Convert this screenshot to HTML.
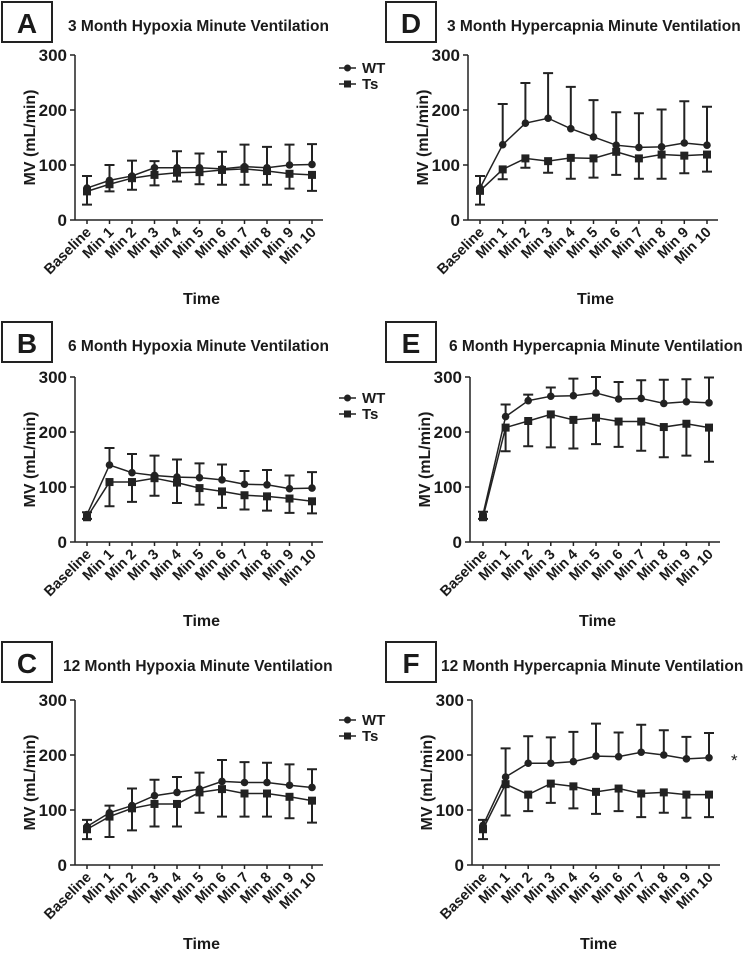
<!DOCTYPE html>
<html><head><meta charset="utf-8"><style>
body{margin:0;background:#fff}
svg{display:block;font-family:"Liberation Sans",Arial,sans-serif;font-weight:bold;fill:#1a1a1a}
</style></head><body>
<svg id="fig" width="749" height="956" viewBox="0 0 749 956" xmlns="http://www.w3.org/2000/svg"></svg>
<script>
const categories=["Baseline","Min 1","Min 2","Min 3","Min 4","Min 5","Min 6","Min 7","Min 8","Min 9","Min 10"];
const yTicks=[0,100,200,300];
// Panel A
const aWT=[58,72,80,95,95,95,93,97,95,100,101];
const aWTup=[80,100,108,107,125,121,124,137,133,137,138];
const aTs=[52,65,76,82,86,87,91,93,89,84,82];
const aTslo=[28,52,55,63,70,65,64,64,64,57,53];
// Panel B
const bWT=[50,140,126,121,118,117,113,105,104,97,98];
const bWTup=[54,171,160,157,150,143,141,129,131,121,127];
const bTs=[45,109,109,116,108,98,92,85,83,79,74];
const bTslo=[42,65,73,84,71,68,62,59,57,53,52];
// Panel C
const cWT=[70,95,108,126,132,138,152,150,150,145,141];
const cWTup=[82,108,139,155,160,168,191,187,186,183,174];
const cTs=[65,88,103,111,111,132,138,130,130,124,117];
const cTslo=[47,51,63,70,70,95,88,88,88,85,77];
// Panel D
const dWT=[58,137,176,185,166,151,136,132,133,140,136];
const dWTup=[80,211,249,267,242,218,196,194,201,216,206];
const dTs=[53,92,112,107,113,112,124,112,119,117,119];
const dTslo=[28,74,95,86,75,77,82,75,75,85,88];
// Panel E
const eWT=[50,228,257,265,266,271,260,261,252,255,253];
const eWTup=[55,250,268,281,297,300,291,294,295,296,299];
const eTs=[45,208,220,232,222,226,219,219,209,215,208];
const eTslo=[42,165,174,172,170,178,173,166,154,157,146];
// Panel F
const fWT=[72,160,185,185,188,198,197,205,200,193,195];
const fWTup=[82,212,234,232,242,257,241,255,245,233,240];
const fTs=[65,147,128,148,143,133,139,130,132,128,128];
const fTslo=[47,90,98,113,103,93,98,87,95,86,87];

const NS="http://www.w3.org/2000/svg";
const svg=document.getElementById('fig');
function mk(tag,attrs,parent,text){const e=document.createElementNS(NS,tag);for(const k in attrs)e.setAttribute(k,attrs[k]);if(text!==undefined)e.textContent=text;(parent||svg).appendChild(e);return e;}

function panel(o){
  const g=mk('g',{});
  
  
  const x=i=>o.x0+(o.x1-o.x0)*i/10;
  const y=v=>o.yb+(o.yt-o.yb)*v/300;
  const box=mk('rect',{x:o.bx,y:o.by,width:50,height:40,fill:'none',stroke:'#222','stroke-width':2},g);
  
  
  const lt=mk('text',{x:o.bx+25,y:o.by+31,'font-size':28,'text-anchor':'middle'},g,o.letter);
  
  
  const tt=mk('text',{x:o.tx,y:o.by+29,'font-size':15.5},g,o.title);
  
  
  const ya=mk('line',{x1:o.ax,y1:o.yt,x2:o.ax,y2:o.yb,stroke:'#222','stroke-width':1.5},g);
  
  
  const xa=mk('line',{x1:o.ax,y1:o.yb,x2:o.x1+11,y2:o.yb,stroke:'#222','stroke-width':1.5},g);
  
  
  yTicks.forEach(t=>{
    mk('line',{x1:o.ax-5,y1:y(t),x2:o.ax,y2:y(t),stroke:'#222','stroke-width':1.5},g);
    const tl=mk('text',{x:o.ax-8,y:y(t)+6,'font-size':17,'text-anchor':'end'},g,t);
    
    
  });
  categories.forEach((c,i)=>{
    mk('line',{x1:x(i),y1:o.yb,x2:x(i),y2:o.yb+4,stroke:'#222','stroke-width':1.5},g);
    const cl=mk('text',{x:x(i)+5,y:o.yb+13,'font-size':14.5,'text-anchor':'end',transform:`rotate(-45 ${x(i)+5} ${o.yb+13})`},g,c);
    
    
  });
  const yl=mk('text',{x:0,y:0,'font-size':16,'text-anchor':'middle',transform:`translate(${o.ax-40},${(o.yt+o.yb)/2}) rotate(-90)`},g,'MV (mL/min)');
  
  
  const xl=mk('text',{x:(o.ax+o.x1)/2+8,y:o.yb+84,'font-size':16,'text-anchor':'middle'},g,'Time');
  
  
  function err(vals,ends,name){
    vals.forEach((v,i)=>{
      const e=mk('path',{d:`M${x(i)},${y(v)}V${y(ends[i])}M${x(i)-5},${y(ends[i])}H${x(i)+5}`,stroke:'#222','stroke-width':2,fill:'none'},g);
      
      
    });
  }
  err(o.wt,o.wtu,'wt-error-bar');
  err(o.ts,o.tsl,'ts-error-bar');
  const lw=mk('polyline',{points:o.wt.map((v,i)=>x(i)+','+y(v)).join(' '),fill:'none',stroke:'#222','stroke-width':1.5},g);
  
  
  const ls=mk('polyline',{points:o.ts.map((v,i)=>x(i)+','+y(v)).join(' '),fill:'none',stroke:'#222','stroke-width':1.5},g);
  
  
  o.wt.forEach((v,i)=>{
    const p=mk('circle',{cx:x(i),cy:y(v),r:3.8,fill:'#222'},g);
    
    
  });
  o.ts.forEach((v,i)=>{
    const p=mk('rect',{x:x(i)-4,y:y(v)-4,width:8,height:8,fill:'#222'},g);
    
    
  });
  if(o.leg){
    const lg=mk('g',{},g);
    
    
    const e1=mk('g',{},lg);
    
    
    mk('line',{x1:339,y1:o.leg,x2:356,y2:o.leg,stroke:'#222','stroke-width':1.5},e1);
    mk('circle',{cx:347.5,cy:o.leg,r:3.5,fill:'#222'},e1);
    mk('text',{x:362,y:o.leg+5,'font-size':15},e1,'WT');
    const e2=mk('g',{},lg);
    
    
    mk('line',{x1:339,y1:o.leg+16,x2:356,y2:o.leg+16,stroke:'#222','stroke-width':1.5},e2);
    mk('rect',{x:344,y:o.leg+12.5,width:7,height:7,fill:'#222'},e2);
    mk('text',{x:362,y:o.leg+21,'font-size':15},e2,'Ts');
  }
  if(o.star){
    const s=mk('text',{x:731,y:766,'font-size':17,'font-weight':'normal'},g,'*');
    
    
  }
}
panel({letter:'A',title:'3 Month Hypoxia Minute Ventilation',bx:2,by:2,tx:68,ax:75,x0:87,x1:312,yt:55,yb:220,wt:aWT,wtu:aWTup,ts:aTs,tsl:aTslo,leg:68});
panel({letter:'B',title:'6 Month Hypoxia Minute Ventilation',bx:2,by:322,tx:68,ax:75,x0:87,x1:312,yt:377,yb:542,wt:bWT,wtu:bWTup,ts:bTs,tsl:bTslo,leg:398});
panel({letter:'C',title:'12 Month Hypoxia Minute Ventilation',bx:2,by:642,tx:63,ax:75,x0:87,x1:312,yt:700,yb:865,wt:cWT,wtu:cWTup,ts:cTs,tsl:cTslo,leg:720});
panel({letter:'D',title:'3 Month Hypercapnia Minute Ventilation',bx:386,by:2,tx:447,ax:468,x0:480,x1:707,yt:55,yb:220,wt:dWT,wtu:dWTup,ts:dTs,tsl:dTslo});
panel({letter:'E',title:'6 Month Hypercapnia Minute Ventilation',bx:386,by:322,tx:449,ax:470,x0:483,x1:709,yt:377,yb:542,wt:eWT,wtu:eWTup,ts:eTs,tsl:eTslo});
panel({letter:'F',title:'12 Month Hypercapnia Minute Ventilation',bx:386,by:642,tx:441,ax:472,x0:483,x1:709,yt:700,yb:865,wt:fWT,wtu:fWTup,ts:fTs,tsl:fTslo,star:true});
</script>
</body></html>
